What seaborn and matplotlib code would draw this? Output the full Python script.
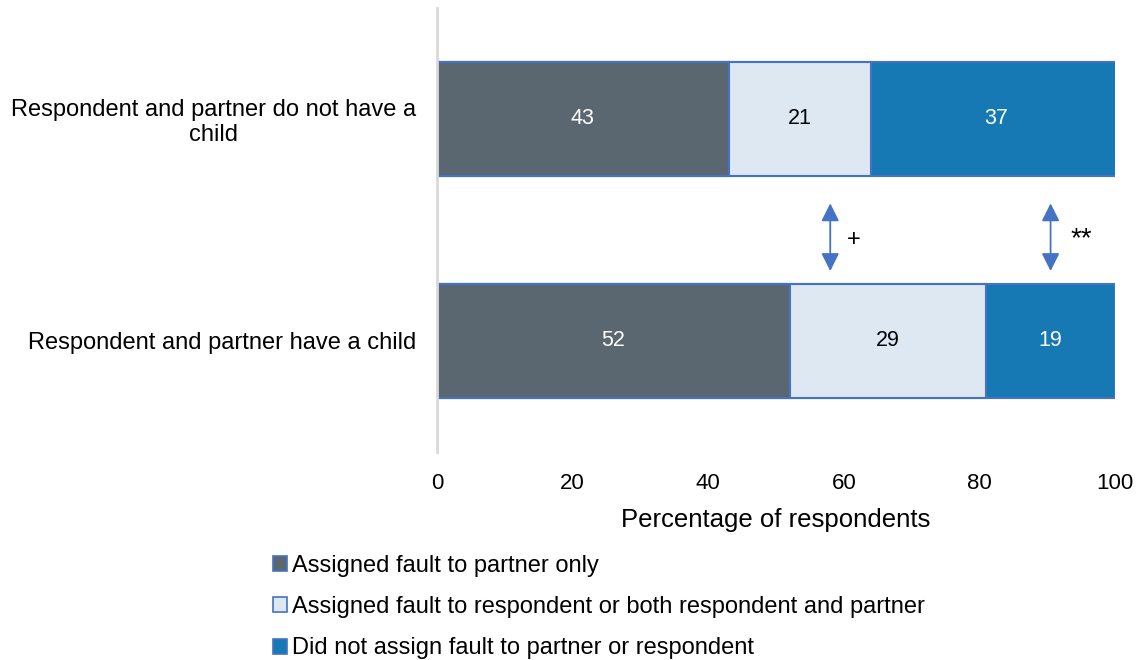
import matplotlib
matplotlib.use("Agg")
import matplotlib.pyplot as plt
import seaborn as sns
import pandas as pd
import numpy as np
from matplotlib.patches import Patch

categories = ["Respondent and partner do not have a\nchild", "Respondent and partner have a child"]
series_names = [
    "Assigned fault to partner only",
    "Assigned fault to respondent or both respondent and partner",
    "Did not assign fault to partner or respondent",
]
partner_only = [43, 52]
respondent_or_both = [21, 29]
no_fault = [37, 19]
sig_marks = ["+", "**"]

colors = ["#5B6770", "#DEE8F2", "#1779B4"]
text_colors = ["white", "black", "white"]
edge = "#4472C4"

sns.set_theme(style="white")
plt.rcParams["font.family"] = ["Liberation Sans", "DejaVu Sans"]
plt.rcParams["text.color"] = "black"
plt.rcParams["xtick.color"] = "black"
plt.rcParams["ytick.color"] = "black"
plt.rcParams["axes.labelcolor"] = "black"

df = pd.DataFrame({
    "category": categories,
    "s1": partner_only,
    "s2": respondent_or_both,
    "s3": no_fault,
})
df["c1"] = df["s1"]
df["c2"] = df["s1"] + df["s2"]
df["c3"] = df["c2"] + df["s3"]

fig = plt.figure(figsize=(11.36, 6.6), dpi=100)
ax = fig.add_axes([0.3847, 0.3152, 0.5968, 0.6727])

# stacked by overlaying cumulative bars, widest first
for col, color in zip(["c3", "c2", "c1"], colors[::-1]):
    sns.barplot(data=df, y="category", x=col, color=color, orient="h",
                width=0.51, edgecolor=edge, linewidth=1.5, saturation=1, ax=ax)

# segment labels
for i in range(len(categories)):
    starts = [0, df["c1"][i], df["c2"][i]]
    vals = [df["s1"][i], df["s2"][i], df["s3"][i]]
    for s, v, tc in zip(starts, vals, text_colors):
        ax.text(s + v / 2, i, str(v), ha="center", va="center", color=tc, fontsize=15.5)

# significance arrows between the bars
arrow_x = [58, 90.5]
for x, mark, dx, ty, fs in zip(arrow_x, sig_marks, [3.5, 4.6], [0.545, 0.54], [17, 20]):
    ax.annotate("", xy=(x, 0.38), xytext=(x, 0.685),
                arrowprops=dict(arrowstyle="<|-|>,head_length=0.9,head_width=0.45",
                                color=edge, lw=1.3, shrinkA=0, shrinkB=0))
    ax.text(x + dx, ty, mark, ha="center", va="center", fontsize=fs, color="black")

ax.set_xlim(0, 100)
ax.set_ylim(1.5, -0.5)
ax.set_xticks(np.arange(0, 101, 20))
ax.set_ylabel("")
ax.set_xlabel("Percentage of respondents", fontsize=18.5, labelpad=10)
ax.tick_params(axis="x", labelsize=16, length=0, pad=15)
ax.tick_params(axis="y", labelsize=17, length=0, pad=15)
for lbl in ax.get_yticklabels():
    lbl.set_multialignment("center")
    lbl.set_linespacing(1.15)

for side in ["top", "right", "bottom"]:
    ax.spines[side].set_visible(False)
ax.spines["left"].set_color("#D9D9D9")
ax.spines["left"].set_linewidth(2)
ax.grid(False)

handles = [Patch(facecolor=c, edgecolor=edge, linewidth=1.2) for c in colors]
fig.legend(handles, series_names, loc="upper left", bbox_to_anchor=(0.232, 0.174),
           frameon=False, fontsize=17, handlelength=0.6, handleheight=0.6,
           handletextpad=0.2, labelspacing=0.82, borderaxespad=0)

plt.savefig("out.png", dpi=100)
plt.close()
